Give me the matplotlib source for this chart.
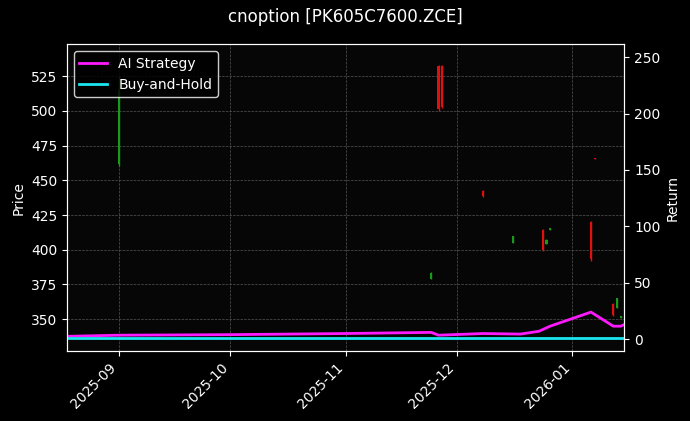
import matplotlib
matplotlib.use("Agg")
import matplotlib.pyplot as plt
import matplotlib.dates as mdates
import pandas as pd

plt.style.use("dark_background")

# candles: date, open, high, low, close
candle_dates = ["2025-09-01", "2025-11-24", "2025-11-26", "2025-11-27", "2025-12-08",
                "2025-12-16", "2025-12-24", "2025-12-25", "2025-12-26", "2026-01-06",
                "2026-01-07", "2026-01-12", "2026-01-13", "2026-01-14"]
opens = [462, 379, 532, 532, 442, 405, 414, 404, 414, 420, 466, 361, 358, 351]
highs = [525, 384, 533, 533, 443, 410, 415, 408, 416, 421, 466, 362, 365, 352]
lows = [460, 379, 500, 502, 438, 405, 399, 404, 414, 392, 465, 352, 358, 351]
closes = [515, 383, 501, 503, 439, 410, 400, 407, 416, 393, 465, 353, 365, 352]

ret_dates = ["2025-08-18", "2025-09-01", "2025-10-01", "2025-11-01", "2025-11-24",
             "2025-11-26", "2025-12-08", "2025-12-18", "2025-12-23", "2025-12-26",
             "2026-01-06", "2026-01-12", "2026-01-14", "2026-01-15"]
ai_ret = [2.5, 3.5, 4.0, 5.0, 6.0, 3.5, 5.0, 4.5, 7.0, 11.5, 24.0, 11.5, 11.5, 13.0]
bh_ret = [1.0] * len(ret_dates)

cd = pd.to_datetime(candle_dates)
rd = pd.to_datetime(ret_dates)

fig, ax = plt.subplots(figsize=(6.9, 4.21), dpi=100)
fig.patch.set_facecolor("black")
ax.set_facecolor("#060606")

for d, o, h, l, c in zip(cd, opens, highs, lows, closes):
    col = "#1a9a1a" if c >= o else "#e01010"
    ax.vlines(d, l, h, color=col, linewidth=1)
    ax.bar(d, abs(c - o) or 0.5, bottom=min(o, c), width=0.6, color=col)

ax.set_ylim(327, 548)
ax.set_ylabel("Price")
ax.set_xlim(pd.Timestamp("2025-08-18"), pd.Timestamp("2026-01-15"))
ax.grid(True, linestyle="--", color="#555555", linewidth=0.5)
ax.xaxis.set_major_locator(mdates.MonthLocator())
ax.xaxis.set_major_formatter(mdates.DateFormatter("%Y-%m"))
plt.setp(ax.get_xticklabels(), rotation=45, ha="right")

ax2 = ax.twinx()
ax2.plot(rd, ai_ret, color="#ff19ff", linewidth=2, label="AI Strategy")
ax2.plot(rd, bh_ret, color="#19e6f0", linewidth=2, label="Buy-and-Hold")
ax2.set_ylim(-10.6, 261.5)
ax2.set_ylabel("Return")
ax2.legend(loc="upper left", facecolor="black", edgecolor="white")

fig.suptitle("cnoption [PK605C7600.ZCE]")
fig.subplots_adjust(left=0.097, right=0.905, top=0.895, bottom=0.166)
fig.savefig("out.png", facecolor="black")
